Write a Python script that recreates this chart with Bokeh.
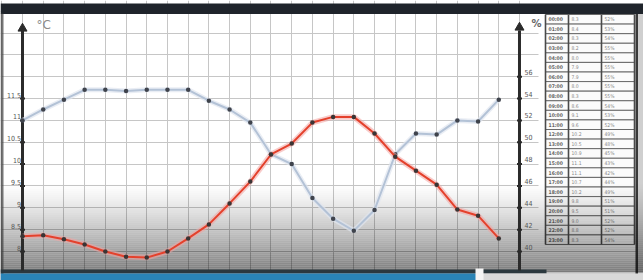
from bokeh.plotting import figure
from bokeh.models import Range1d, FixedTicker
from bokeh.core.properties import value
from bokeh.embed import file_html
from bokeh.resources import INLINE
import numpy as np

# ---------------- data ----------------
times = ["00:00", "01:00", "02:00", "03:00", "04:00", "05:00", "06:00", "07:00",
         "08:00", "09:00", "10:00", "11:00", "12:00", "13:00", "14:00", "15:00",
         "16:00", "17:00", "18:00", "19:00", "20:00", "21:00", "22:00", "23:00"]
temperature = [8.35, 8.37, 8.28, 8.16, 8.0, 7.88, 7.86, 8.0, 8.3, 8.62, 9.1, 9.6,
               10.22, 10.47, 10.95, 11.08, 11.08, 10.7, 10.17, 9.85, 9.53, 8.96, 8.82, 8.3]
humidity = [52.0, 53.0, 53.9, 54.8, 54.8, 54.7, 54.8, 54.8, 54.8, 53.8, 53.0, 51.8,
            48.9, 48.0, 44.9, 43.0, 41.9, 43.8, 48.9, 50.8, 50.7, 52.0, 51.9, 53.9]
left_ticks = [8.0, 8.5, 9.0, 9.5, 10.0, 10.5, 11.0, 11.5]
left_tick_labels = ["8", "8.5", "9", "9.5", "10", "10.5", "11", "11.5"]
right_ticks = [40, 42, 44, 46, 48, 50, 52, 54, 56]
right_tick_labels = ["40", "42", "44", "46", "48", "50", "52", "54", "56"]
left_unit = "°C"
right_unit = "%"

# ---------------- geometry helpers (layout only) ----------------
W, H = 643, 280


def xd(px):  # page pixel -> x data
    return (px - 22) / 20.708


def yd(py):  # page pixel -> left-axis data
    return 8 + (251 - py) / 43.7


def to_pct(v):
    return 40 + (v - 8) * 4


X0, X1 = xd(0), xd(W)
Y0, Y1 = yd(H), yd(0)
x = list(range(len(times)))

p = figure(width=W, height=H, x_range=Range1d(X0, X1), y_range=Range1d(Y0, Y1),
           output_backend="svg", toolbar_location=None, min_border=0,
           x_axis_location=None, y_axis_location=None)
p.extra_y_ranges = {"pct": Range1d(to_pct(Y0), to_pct(Y1))}
p.outline_line_color = None
p.background_fill_color = "white"
p.border_fill_color = "white"
p.xgrid.ticker = FixedTicker(ticks=list(range(-1, 25)))
p.ygrid.ticker = FixedTicker(ticks=list(np.arange(7.5, 14.01, 0.5)))
p.grid.grid_line_color = "#c6c6c6"
p.grid.grid_line_width = 1

# ---------------- table (right) ----------------
col_px = [545, 568, 601, 634]
n = len(times)
row_top, row_bot = 14, 244
rh = (row_bot - row_top) / n
tops = [yd(row_top + i * rh) for i in range(n)]
bots = [yd(row_top + (i + 1) * rh) for i in range(n)]
mids = [yd(row_top + (i + 0.5) * rh) for i in range(n)]
p.quad(left=xd(538), right=X1, top=yd(12), bottom=yd(247), fill_color="white", line_color=None)
for c in range(3):
    p.quad(left=[xd(col_px[c])] * n, right=[xd(col_px[c + 1])] * n, top=tops, bottom=bots,
           fill_color="#fbfbfb", line_color="#6a6a6a", line_width=1)
p.segment(x0=[xd(cp) for cp in col_px], x1=[xd(cp) for cp in col_px],
          y0=[yd(row_top)] * 4, y1=[yd(row_bot)] * 4, line_color="#4a4a4a", line_width=1.6)
p.text(x=[xd(548)] * n, y=mids, text=times, text_font=value("DejaVu Sans Condensed"),
       text_font_size="5px", text_font_style="bold", text_color="#666666", text_baseline="middle")
p.text(x=[xd(571)] * n, y=mids, text=[f"{t:.1f}" for t in temperature],
       text_font=value("DejaVu Sans Condensed"), text_font_size="5px", text_color="#8a8a8a",
       text_baseline="middle")
p.text(x=[xd(604)] * n, y=mids, text=[f"{h:.0f}%" for h in humidity],
       text_font=value("DejaVu Sans Condensed"), text_font_size="5px", text_color="#8a8a8a",
       text_baseline="middle")
# right photo edge
p.quad(left=xd(636), right=X1, top=yd(13), bottom=Y0, fill_color="#cfcfcf", line_color=None)
p.quad(left=xd(635), right=xd(637.5), top=yd(13), bottom=Y0, fill_color="#3a3a3a", line_color=None)

# ---------------- photo vignette at bottom / top band ----------------
band_px = np.arange(182, 272, 2)
alphas = 0.52 * ((band_px + 1 - 182) / (272 - 182)) ** 1.3
p.quad(left=X0, right=X1, top=[yd(b) for b in band_px], bottom=[yd(b + 2) for b in band_px],
       fill_color="black", fill_alpha=alphas, line_color=None)
p.quad(left=X0, right=X1, top=yd(3), bottom=yd(13.5), fill_color="#1f242b", line_color=None)
p.quad(left=X0, right=xd(3), top=yd(13), bottom=Y0, fill_color="#3c3c3c", fill_alpha=0.7,
       line_color=None)
p.quad(left=X0, right=xd(546), top=yd(269), bottom=yd(273), fill_color="#2b383e", line_color=None)
p.quad(left=X0, right=xd(478), top=yd(273), bottom=Y0, fill_color="#2a84b6", line_color=None)
p.quad(left=xd(478), right=X1, top=yd(273), bottom=Y0, fill_color="#d9d9d9", line_color=None)
p.quad(left=xd(475), right=xd(483), top=yd(268), bottom=Y0, fill_color="#f4f4f4", line_color=None)

# ---------------- axes (drawn inside the frame) ----------------
ax_col = "#2b2b2b"
p.segment(x0=[0, 24], x1=[0, 24], y0=[yd(270), yd(270)], y1=[yd(30), yd(30)],
          line_color=ax_col, line_width=3)
p.scatter(x=[0, 24], y=[yd(28), yd(27)], marker="triangle", size=9, fill_color=ax_col, line_color=ax_col)
p.scatter(x=[0] * len(left_ticks), y=left_ticks, marker="dash", size=5, line_color=ax_col, line_width=2)
p.scatter(x=[24] * len(right_ticks), y=right_ticks, marker="dash", size=5, line_color=ax_col,
          line_width=2, y_range_name="pct")
p.text(x=[xd(20.5)] * len(left_ticks), y=left_ticks, text=left_tick_labels, y_offset=-4,
       text_font=value("DejaVu Sans Condensed"), text_font_size="7px", text_color="#555555",
       text_align="right", text_baseline="middle")
p.text(x=[xd(528)] * len(right_ticks), y=right_ticks, text=right_tick_labels, y_offset=-5,
       text_font=value("DejaVu Sans Condensed"), text_font_size="7px", text_color="#555555",
       text_align="center", text_baseline="middle", y_range_name="pct")
p.text(x=[xd(36)], y=[yd(24)], text=[left_unit], text_font=value("DejaVu Sans"),
       text_font_size="12px", text_color="#8a8a8a", text_baseline="middle")
p.text(x=[xd(531)], y=[yd(23)], text=[right_unit], text_font=value("DejaVu Sans"),
       text_font_size="10px", text_font_style="bold", text_color="#666666", text_baseline="middle")

# ---------------- series ----------------
p.line(x, humidity, y_range_name="pct", line_color="#dfe6ef", line_width=5, line_alpha=0.7)
p.line(x, humidity, y_range_name="pct", line_color="#b3c2d6", line_width=2)
p.scatter(x, humidity, y_range_name="pct", size=4.5, fill_color="#3f434c", line_color=None)

p.line(x, temperature, line_color="#f3a3a0", line_width=5.5, line_alpha=0.55)
p.line(x, temperature, line_color="#e4412c", line_width=2)
p.scatter(x, temperature, size=4.5, fill_color="#3a3535", line_color=None)

open("out.html", "w").write(file_html(p, INLINE))
